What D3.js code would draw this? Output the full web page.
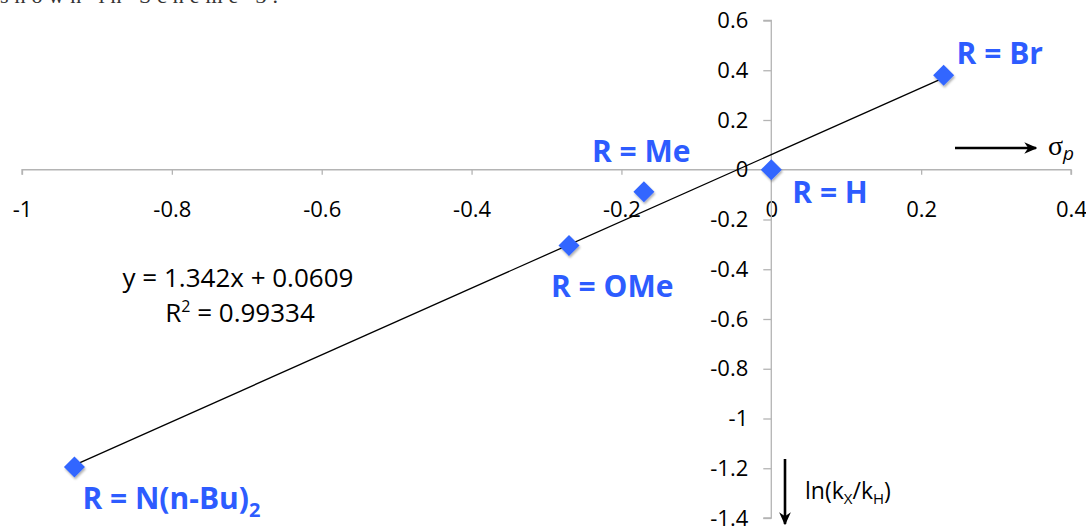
<!DOCTYPE html>
<html>
<head>
<meta charset="utf-8">
<script src="https://cdn.jsdelivr.net/npm/d3@7"></script>
<style>
  html, body { margin: 0; padding: 0; background: #fff; }
  svg { display: block; }
</style>
</head>
<body>
<svg id="chart" width="1086" height="527"></svg>
<script>
// Hammett plot: substituent constant sigma_p vs ln(kX/kH)
const substituents = ["N(n-Bu)2", "OMe", "Me", "H", "Br"];
const sigmaP = [-0.93, -0.27, -0.17, 0.0, 0.23];
const lnRatio = [-1.195, -0.305, -0.088, 0.0, 0.38];
const xTicks = [-1, -0.8, -0.6, -0.4, -0.2, 0, 0.2, 0.4];
const yTicks = [0.6, 0.4, 0.2, 0, -0.2, -0.4, -0.6, -0.8, -1, -1.2, -1.4];
const fitSlope = 1.342;
const fitIntercept = 0.0609;
const fitR2 = 0.99334;

const svg = d3.select("#chart");

const x = d3.scaleLinear().domain([-1, 0.4]).range([22, 1071]);
const y = d3.scaleLinear().domain([0.6, -1.4]).range([20.5, 518]);

const axisColor = "#b4b4b4";
const tickFont = "'Open Sans', Lato, sans-serif";
const blue = "#3366ff";
const labelBlue = "#2d5cff";
const fmt = d => d3.format("")(d).replace("−", "-");

// clipped line of running text above the figure
svg.append("text")
  .attr("x", 0).attr("y", 3)
  .attr("font-family", "'Liberation Serif', 'DejaVu Serif', serif")
  .attr("font-size", 22)
  .attr("textLength", 278)
  .attr("fill", "#333")
  .text("shown in Scheme 3.");

const defs = svg.append("defs");
const shadow = defs.append("filter").attr("id", "mshadow")
  .attr("x", "-50%").attr("y", "-50%").attr("width", "200%").attr("height", "200%");
shadow.append("feDropShadow")
  .attr("dx", 1).attr("dy", 2).attr("stdDeviation", 1.3)
  .attr("flood-color", "#000").attr("flood-opacity", 0.3);

// x axis through y = 0
const xAxis = d3.axisBottom(x)
  .tickValues(xTicks)
  .tickSize(5)
  .tickPadding(27)
  .tickFormat(fmt);
const gx = svg.append("g")
  .attr("transform", `translate(0,${y(0)})`)
  .call(xAxis);
gx.select(".domain").attr("stroke", axisColor).attr("stroke-width", 1.3)
  .attr("d", `M${x(-1)},5V0H${x(0.4)}V5`);
gx.selectAll(".tick line").attr("stroke", axisColor).attr("stroke-width", 1.3);
gx.selectAll(".tick text")
  .attr("fill", "#000")
  .attr("font-family", tickFont)
  .attr("font-size", 22);

// y axis through x = 0
const yAxis = d3.axisLeft(y)
  .tickValues(yTicks)
  .tickSize(8)
  .tickPadding(15)
  .tickFormat(fmt);
const gy = svg.append("g")
  .attr("transform", `translate(${x(0)},0)`)
  .call(yAxis);
gy.select(".domain").attr("stroke", axisColor).attr("stroke-width", 1.3)
  .attr("d", `M-8,${y(0.6)}H0V${y(-1.4)}H-8`);
gy.selectAll(".tick line").attr("stroke", axisColor).attr("stroke-width", 1.3);
gy.selectAll(".tick text")
  .attr("fill", "#000")
  .attr("font-family", tickFont)
  .attr("font-size", 22);

// linear trendline across the data range
const xMin = d3.min(sigmaP), xMax = d3.max(sigmaP);
svg.append("line")
  .attr("x1", x(xMin)).attr("y1", y(fitSlope * xMin + fitIntercept))
  .attr("x2", x(xMax)).attr("y2", y(fitSlope * xMax + fitIntercept))
  .attr("stroke", "#000").attr("stroke-width", 1.3);

// diamond markers
const pts = substituents.map((s, i) => ({ s, sx: sigmaP[i], ly: lnRatio[i] }));
svg.append("g").selectAll("path").data(pts).join("path")
  .attr("transform", d => `translate(${x(d.sx)},${y(d.ly)})`)
  .attr("d", "M0,-10.5L10.5,0L0,10.5L-10.5,0Z")
  .attr("fill", blue)
  .attr("filter", "url(#mshadow)");

// substituent labels
const labelFont = "'Open Sans', Lato, sans-serif";
const labelPos = {
  "Br": { dx: 13, dy: -11 },
  "H": { dx: 21, dy: 33 },
  "Me": { dx: -52, dy: -30 },
  "OMe": { dx: -18, dy: 51 },
  "N(n-Bu)2": { dx: 8, dy: 42 }
};
pts.forEach(d => {
  const p = labelPos[d.s];
  const t = svg.append("text")
    .attr("x", x(d.sx) + p.dx)
    .attr("y", y(d.ly) + p.dy)
    .attr("font-family", labelFont)
    .attr("font-weight", 700)
    .attr("font-size", 30)
    .attr("fill", labelBlue);
  if (d.s === "N(n-Bu)2") {
    t.append("tspan").text("R = N(n-Bu)");
    t.append("tspan").attr("dy", 8).attr("font-size", 20).text("2");
  } else {
    t.text("R = " + d.s);
  }
});

// regression equation
const eq = svg.append("text")
  .attr("font-family", tickFont)
  .attr("font-size", 26)
  .attr("fill", "#000")
  .attr("text-anchor", "middle");
eq.append("tspan").attr("x", 238).attr("y", 287)
  .text(`y = ${fitSlope}x + ${fitIntercept}`);
const r2 = eq.append("tspan").attr("x", 240).attr("y", 322);
r2.append("tspan").text("R");
r2.append("tspan").attr("dy", -10).attr("font-size", 16).text("2");
r2.append("tspan").attr("dy", 10).text(` = ${fitR2}`);

// axis direction arrows
defs.append("marker").attr("id", "ahead")
  .attr("viewBox", "0 0 10 10").attr("refX", 9).attr("refY", 5)
  .attr("markerWidth", 5).attr("markerHeight", 5)
  .attr("markerUnits", "strokeWidth")
  .attr("orient", "auto")
  .append("path").attr("d", "M0,0.5L10,5L0,9.5L3,5Z").attr("fill", "#000");

svg.append("line")
  .attr("x1", 955).attr("y1", 148).attr("x2", 1036).attr("y2", 148)
  .attr("stroke", "#000").attr("stroke-width", 2.6)
  .attr("marker-end", "url(#ahead)");

const sig = svg.append("text")
  .attr("x", 1048).attr("y", 155)
  .attr("fill", "#000");
sig.append("tspan")
  .attr("font-family", "'Liberation Serif', 'DejaVu Serif', serif")
  .attr("font-size", 28).text("σ");
sig.append("tspan")
  .attr("dy", 5)
  .attr("font-family", tickFont)
  .attr("font-style", "italic")
  .attr("font-size", 19).text("p");

svg.append("line")
  .attr("x1", 785).attr("y1", 459).attr("x2", 785).attr("y2", 524)
  .attr("stroke", "#000").attr("stroke-width", 2.6)
  .attr("marker-end", "url(#ahead)");

const ln = svg.append("text")
  .attr("x", 805).attr("y", 499)
  .attr("font-family", tickFont)
  .attr("font-size", 23)
  .attr("fill", "#000");
ln.append("tspan").text("ln(k");
ln.append("tspan").attr("dy", 5).attr("font-size", 15).text("X");
ln.append("tspan").attr("dy", -5).text("/k");
ln.append("tspan").attr("dy", 5).attr("font-size", 15).text("H");
ln.append("tspan").attr("dy", -5).text(")");
</script>
</body>
</html>
